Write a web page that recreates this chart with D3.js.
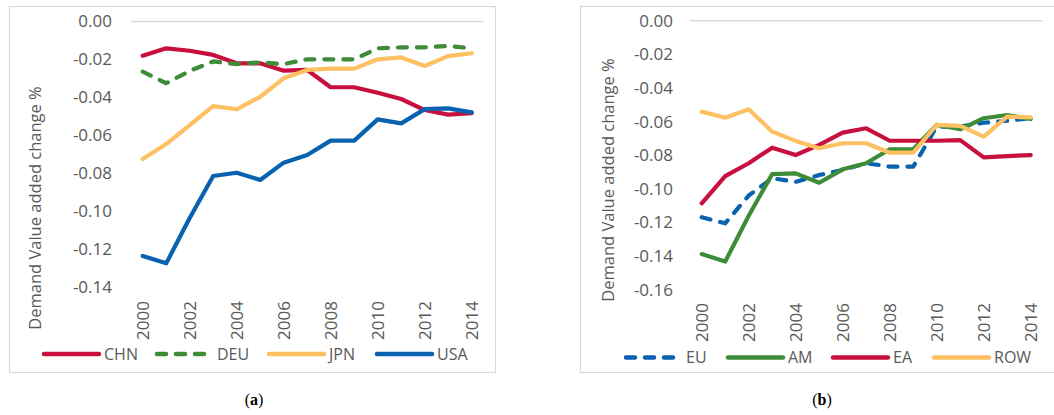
<!DOCTYPE html>
<html>
<head>
<meta charset="utf-8">
<script src="https://cdn.jsdelivr.net/npm/d3@7"></script>
<style>
  html, body { margin: 0; padding: 0; background: #fff; }
  svg { display: block; }
  text { font-family: "Open Sans", sans-serif; fill: #595959; }
</style>
</head>
<body>
<svg id="chart" width="1054" height="415"></svg>
<script>
// ---------- data ----------
const years = ["2000","2001","2002","2003","2004","2005","2006","2007","2008","2009","2010","2011","2012","2013","2014"];
const tickYears = ["2000","2002","2004","2006","2008","2010","2012","2014"];

// panel (a)
const CHN = [-0.018,-0.0141,-0.0154,-0.0176,-0.022,-0.022,-0.0259,-0.0255,-0.0346,-0.0346,-0.0375,-0.0408,-0.0466,-0.0490,-0.0483];
const DEU = [-0.0264,-0.0325,-0.026,-0.021,-0.0224,-0.0215,-0.0224,-0.0199,-0.0199,-0.0199,-0.0141,-0.0136,-0.0136,-0.0129,-0.0141];
const JPN = [-0.0724,-0.0645,-0.0545,-0.0445,-0.0462,-0.0396,-0.0299,-0.0255,-0.0248,-0.0248,-0.0199,-0.0189,-0.0234,-0.0182,-0.0167];
const USA = [-0.1234,-0.1273,-0.1034,-0.0813,-0.0796,-0.0834,-0.0743,-0.0703,-0.0627,-0.0627,-0.0515,-0.0536,-0.0461,-0.0457,-0.0478];
const ticksA = [0,-0.02,-0.04,-0.06,-0.08,-0.10,-0.12,-0.14];

// panel (b)
const EU  = [-0.1169,-0.1205,-0.104,-0.0937,-0.0958,-0.0918,-0.0888,-0.0848,-0.0868,-0.0868,-0.0630,-0.0630,-0.0607,-0.0595,-0.0580];
const AM  = [-0.1388,-0.1433,-0.116,-0.0912,-0.0908,-0.0964,-0.0884,-0.0848,-0.0765,-0.0765,-0.0620,-0.0646,-0.0580,-0.0561,-0.0585];
const EA  = [-0.1086,-0.0924,-0.0848,-0.0755,-0.0799,-0.0739,-0.0666,-0.0640,-0.0714,-0.0714,-0.0714,-0.0710,-0.0813,-0.0805,-0.0799];
const ROW = [-0.0541,-0.0577,-0.0527,-0.0660,-0.0715,-0.0759,-0.0729,-0.0729,-0.0785,-0.0785,-0.0620,-0.0626,-0.0690,-0.0571,-0.0575];
const ticksB = [0,-0.02,-0.04,-0.06,-0.08,-0.10,-0.12,-0.14,-0.16];

const C = { red: "#C8103E", green: "#3E8C37", orange: "#FDC062", blue: "#0862B0" };

const svg = d3.select("#chart");

function panel(cfg) {
  const g = svg.append("g");
  // frame
  g.append("rect").attr("x", cfg.box[0]).attr("y", cfg.box[1]).attr("width", cfg.box[2]).attr("height", cfg.box[3])
    .attr("fill", "none").attr("stroke", "#d9d9d9").attr("stroke-width", 1.2);

  const x = d3.scalePoint().domain(years).range(cfg.xr).padding(0);
  const y = d3.scaleLinear().domain(cfg.yd).range(cfg.yr);
  const step = x.step();

  // zero line (category axis)
  g.append("line").attr("x1", cfg.xr[0] - step / 2).attr("x2", cfg.xr[1] + step / 2)
    .attr("y1", y(0)).attr("y2", y(0)).attr("stroke", "#d9d9d9").attr("stroke-width", 1.5);

  // y axis labels
  const ya = d3.axisLeft(y).tickValues(cfg.ticks).tickSize(0).tickPadding(0);
  const yg = g.append("g").attr("transform", `translate(${cfg.ylabX},0)`).call(ya);
  yg.attr("font-size", null).attr("font-family", null);
  yg.select(".domain").remove();
  yg.selectAll("text").style("font-size", "17px").style("fill", "#595959")
    .text(d => d3.format(".2f")(d).replace("\u2212", "-"));

  // x axis labels (rotated)
  const xa = d3.axisBottom(x).tickValues(tickYears).tickSize(0).tickPadding(0);
  const xg = g.append("g").attr("transform", `translate(0,${cfg.xlabY})`).call(xa);
  xg.attr("font-size", null).attr("font-family", null);
  xg.select(".domain").remove();
  xg.selectAll("text").style("font-size", "17px").style("fill", "#595959")
    .attr("text-anchor", "start").attr("dy", "0.35em").attr("y", 0).attr("x", 0)
    .attr("transform", "rotate(-90)");

  // axis title
  g.append("text").attr("transform", `translate(${cfg.titleX},${cfg.titleY}) rotate(-90)`)
    .attr("text-anchor", "middle").attr("dy", "0.35em").style("font-size", "16.5px")
    .text("Demand Value added change %");

  const line = d3.line().x((d, i) => x(years[i])).y(d => y(d));
  cfg.series.forEach(s => {
    g.append("path").datum(s.values).attr("d", line).attr("fill", "none")
      .attr("stroke", s.color).attr("stroke-width", 4.2).attr("stroke-linejoin", "round")
      .attr("stroke-linecap", "round").attr("stroke-dasharray", s.dash ? "9 10" : null);
  });

  // legend
  cfg.series.forEach((s, i) => {
    const lx = cfg.legX[i];
    g.append("line").attr("x1", lx).attr("x2", lx + 55).attr("y1", cfg.legY).attr("y2", cfg.legY)
      .attr("stroke", s.color).attr("stroke-width", 4.5).attr("stroke-linecap", "round")
      .attr("stroke-dasharray", s.dash ? "9 10" : null);
    g.append("text").attr("x", lx + 60).attr("y", cfg.legY).attr("dy", "0.35em").style("font-size", "16px")
      .text(s.name);
  });

  // caption
  const cap = svg.append("text").attr("x", cfg.capX).attr("y", 405).attr("text-anchor", "middle")
    .style("font-family", '"Liberation Serif", "DejaVu Serif", serif').style("font-size", "16px").style("fill", "#000");
  cap.append("tspan").text("(");
  cap.append("tspan").attr("font-weight", "bold").text(cfg.cap);
  cap.append("tspan").text(")");
}

panel({
  box: [9.5, 6.5, 486, 366],
  xr: [142.7, 471.7], yd: [-0.14, 0], yr: [287.5, 21.5], ticks: ticksA,
  ylabX: 112, xlabY: 340, titleX: 35, titleY: 208,
  series: [
    { name: "CHN", values: CHN, color: C.red },
    { name: "DEU", values: DEU, color: C.green, dash: true },
    { name: "JPN", values: JPN, color: C.orange },
    { name: "USA", values: USA, color: C.blue }
  ],
  legX: [44, 157, 269, 377], legY: 354, capX: 254, cap: "a"
});

panel({
  box: [580.5, 6.5, 490, 366],
  xr: [701.7, 1030.7], yd: [-0.16, 0], yr: [289.7, 20.7], ticks: ticksB,
  ylabX: 673, xlabY: 342, titleX: 608, titleY: 180,
  series: [
    { name: "EU", values: EU, color: C.blue, dash: true },
    { name: "AM", values: AM, color: C.green },
    { name: "EA", values: EA, color: C.red },
    { name: "ROW", values: ROW, color: C.orange }
  ],
  legX: [626, 728, 833, 934], legY: 357.5, capX: 822, cap: "b"
});
</script>
</body>
</html>
